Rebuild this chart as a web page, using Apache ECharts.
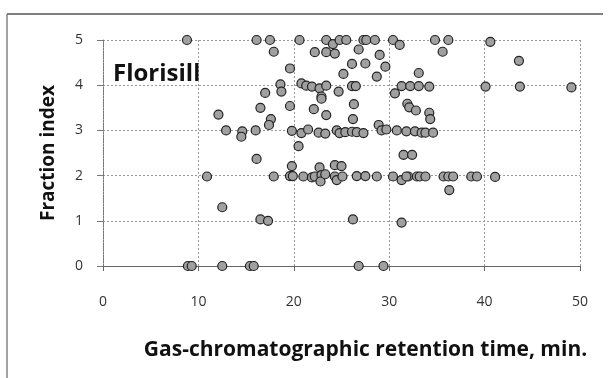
<!DOCTYPE html>
<html><head><meta charset="utf-8">
<script src="https://cdn.jsdelivr.net/npm/echarts@6/dist/echarts.min.js"></script>
<style>html,body{margin:0;padding:0;background:#fff}#c{width:608px;height:378px}</style>
</head><body><div id="c"></div>
<script>
const retentionTime = [
  8.8, 16.1, 12.1, 12.9, 14.6, 14.5, 16.0, 16.5, 16.1, 17.5,
  17.9, 20.6, 19.6, 23.4, 24.1, 24.8, 25.5, 27.3, 27.6, 28.5,
  26.8, 22.2, 23.4, 24.3, 29.0, 30.4, 31.1, 26.1, 27.5, 29.6,
  25.2, 28.7, 33.1, 18.6, 18.7, 17.0, 20.8, 21.3, 21.9, 22.7,
  23.4, 22.9, 22.9, 24.7, 26.1, 26.5, 30.6, 31.3, 32.2, 33.1,
  34.2, 40.1, 43.7, 49.1, 34.8, 36.2, 35.6, 40.6, 43.6, 19.6,
  22.1, 23.4, 26.3, 26.2, 31.9, 32.1, 32.8, 34.2, 34.3, 17.6,
  17.4, 19.8, 20.8, 21.5, 22.6, 23.3, 24.5, 24.8, 25.4, 26.1,
  26.6, 27.3, 28.9, 29.2, 29.7, 30.8, 31.8, 32.7, 33.4, 33.8,
  34.6, 20.5, 31.5, 32.4, 10.9, 12.5, 16.5, 17.3, 8.9, 9.3,
  12.5, 15.4, 15.8, 19.8, 22.7, 24.3, 25.0, 17.9, 19.6, 19.9,
  21.0, 21.9, 22.2, 22.9, 22.8, 23.3, 24.3, 24.5, 25.1, 26.6,
  27.5, 28.7, 30.4, 31.3, 32.0, 32.9, 31.8, 33.2, 33.8, 35.7,
  36.2, 36.7, 36.3, 38.6, 39.2, 41.1, 26.2, 31.3, 26.8, 29.4
];
const fractionIndex = [
  5.00, 5.00, 3.35, 3.00, 2.98, 2.86, 3.00, 3.50, 2.37, 5.00,
  4.74, 5.00, 4.37, 5.00, 4.91, 5.00, 5.00, 5.00, 5.00, 5.00,
  4.79, 4.73, 4.73, 4.70, 4.67, 5.00, 4.89, 4.47, 4.48, 4.41,
  4.25, 4.19, 4.27, 4.02, 3.86, 3.83, 4.04, 3.99, 3.97, 3.93,
  3.99, 3.75, 3.70, 3.86, 3.98, 3.98, 3.82, 3.98, 3.98, 3.98,
  3.97, 3.97, 3.97, 3.95, 5.00, 5.00, 4.74, 4.96, 4.54, 3.54,
  3.47, 3.34, 3.58, 3.25, 3.59, 3.51, 3.44, 3.39, 3.25, 3.25,
  3.12, 2.99, 2.94, 3.02, 2.95, 2.93, 3.00, 2.94, 2.96, 2.97,
  2.96, 2.94, 3.12, 3.00, 3.02, 3.00, 2.98, 2.98, 2.95, 2.95,
  2.95, 2.65, 2.46, 2.46, 1.98, 1.30, 1.03, 1.00, 0.00, 0.00,
  0.00, 0.00, 0.00, 2.21, 2.18, 2.23, 2.21, 1.98, 1.99, 1.99,
  1.98, 1.96, 1.98, 2.01, 1.87, 2.03, 1.98, 1.90, 1.98, 1.99,
  1.99, 1.98, 1.98, 1.90, 1.98, 1.98, 1.98, 1.98, 1.98, 1.98,
  1.98, 1.98, 1.68, 1.98, 1.98, 1.97, 1.03, 0.96, 0.00, 0.00
];
const xTicks = [0, 10, 20, 30, 40, 50];
const yTicks = [0, 1, 2, 3, 4, 5];
const chartLabel = 'Florisill';
const xTitle = 'Gas-chromatographic retention time, min.';
const yTitle = 'Fraction index';

const points = retentionTime.map((x, i) => [x, fractionIndex[i]]);
const chart = echarts.init(document.getElementById('c'), null, {renderer: 'canvas'});
const fontFam = '"Open Sans", "Noto Sans", sans-serif';
chart.setOption({
  animation: false,
  backgroundColor: '#fff',
  grid: {left: 103, top: 40, width: 477, height: 226, containLabel: false},
  xAxis: {
    type: 'value', min: xTicks[0], max: xTicks[xTicks.length - 1], interval: 10,
    name: xTitle, nameLocation: 'middle', nameGap: 74,
    nameTextStyle: {fontFamily: fontFam, fontWeight: 'bold', fontSize: 21, color: '#111', padding: [0, 0, 0, 48]},
    axisLine: {lineStyle: {color: '#666', width: 1}},
    axisTick: {show: true, length: 5, lineStyle: {color: '#666'}},
    axisLabel: {margin: 29, fontFamily: fontFam, fontSize: 14, color: '#333'},
    splitLine: {show: true, lineStyle: {type: [2, 2], color: '#999', width: 1}}
  },
  yAxis: {
    type: 'value', min: yTicks[0], max: yTicks[yTicks.length - 1], interval: 1,
    name: yTitle, nameLocation: 'middle', nameGap: 45, nameRotate: 90,
    nameTextStyle: {fontFamily: fontFam, fontWeight: 'bold', fontSize: 19, color: '#111'},
    axisLine: {lineStyle: {color: '#777', width: 1, type: [2, 1]}},
    axisTick: {show: true, length: 6, lineStyle: {color: '#777'}},
    axisLabel: {margin: 20, fontFamily: fontFam, fontSize: 14, color: '#333'},
    splitLine: {show: true, lineStyle: {type: [2, 2], color: '#999', width: 1}}
  },
  series: [{
    type: 'scatter',
    data: points,
    symbol: 'circle',
    symbolSize: 9,
    itemStyle: {color: '#a0a0a0', borderColor: '#222', borderWidth: 1.2, opacity: 1}
  }],
  graphic: [
    {type: 'line', shape: {x1: 7, y1: 14, x2: 603, y2: 14}, style: {stroke: '#555', lineWidth: 1.5}},
    {type: 'line', shape: {x1: 7, y1: 14, x2: 7, y2: 378}, style: {stroke: '#666', lineWidth: 1.2}},
    {type: 'text', left: 113, top: 62, style: {text: chartLabel, font: 'bold 24px ' + fontFam, fill: '#111'}}
  ]
});
</script></body></html>
